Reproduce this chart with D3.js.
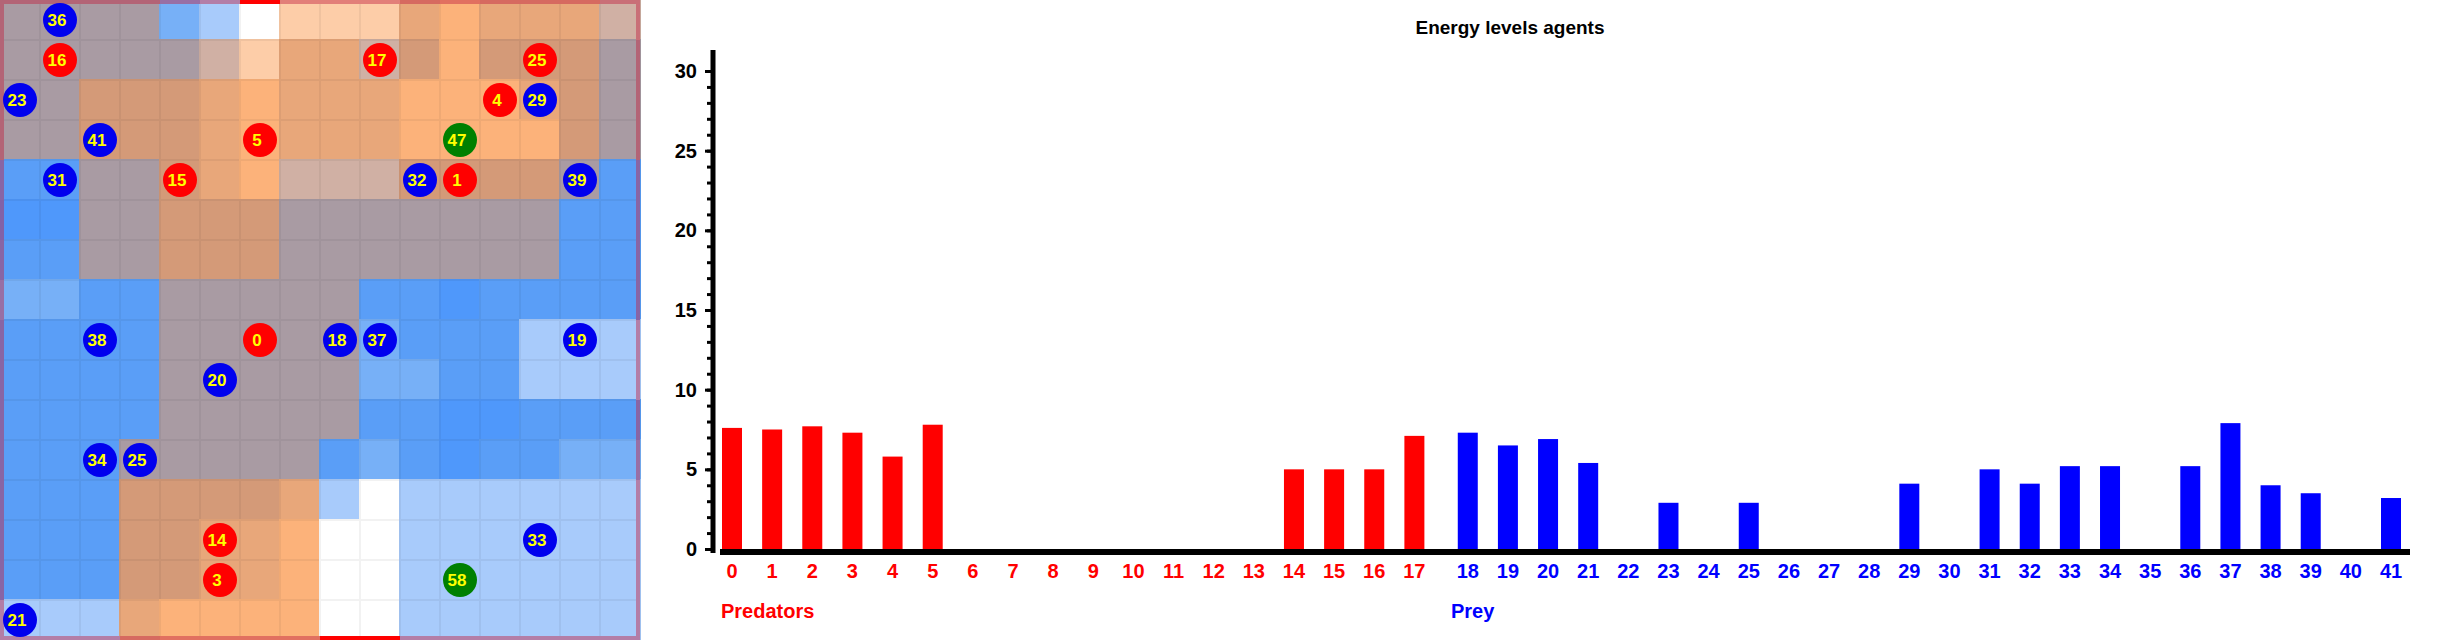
<!DOCTYPE html><html><head><meta charset="utf-8"><script src="https://cdn.jsdelivr.net/npm/d3@7"></script>
<style>body{margin:0;background:#fff}svg{display:block}text{font-family:"Liberation Sans Narrow","Liberation Sans",Arial,sans-serif;font-weight:bold}</style></head><body>
<script>
const predIds=[0,1,2,3,4,5,6,7,8,9,10,11,12,13,14,15,16,17];
const predEnergy=[7.6,7.5,7.7,7.3,5.8,7.8,0,0,0,0,0,0,0,0,5,5,5,7.1];
const preyIds=[18,19,20,21,22,23,24,25,26,27,28,29,30,31,32,33,34,35,36,37,38,39,40,41];
const preyEnergy=[7.3,6.5,6.9,5.4,0,2.9,0,2.9,0,0,0,4.1,0,5.0,4.1,5.2,5.2,0,5.2,7.9,4.0,3.5,0,3.2];
const yTicks=[0,5,10,15,20,25,30];
const gridRows=[
"GGGGMLWPPPTOTTTK","GGGGGKPTTKSOSSSG","GGSSSTOTTTOOOTSG","GGSSSTOTTTOOOOSG",
"BBGGSTOKKKSSSSGB","DDGGSSSGGGGGGGBB","BBGGSSSGGGGGGGBB","MMBBGGGGGBBDBBBB",
"BBBBGGGGGMBBBLLL","BBBBGGGGGMMBBLLL","BBBBGGGGGBBDDBBB","BBBGGGGGBMBDBBMM",
"BBBSSSSTLWLLLLLL","BBBSSTTOWWLLLLLL","BBBSSTTOWWLLLLLL","LLLTOOOOWWLLLLLL"];
const palette={G:"#a99ba3",B:"#5a9ef7",D:"#4f98fb",L:"#a8cbfb",M:"#77b0f7",W:"#ffffff",P:"#fdcda8",O:"#fcb27a",T:"#e8a77a",S:"#d49a78",K:"#d0b0a4"};
const agents=[["36",1,0,"b"],["16",1,1,"r"],["17",9,1,"r"],["25",13,1,"r"],["23",0,2,"b"],["4",12,2,"r"],["29",13,2,"b"],["41",2,3,"b"],["5",6,3,"r"],["47",11,3,"g"],["31",1,4,"b"],["15",4,4,"r"],["32",10,4,"b"],["1",11,4,"r"],["39",14,4,"b"],["38",2,8,"b"],["0",6,8,"r"],["18",8,8,"b"],["37",9,8,"b"],["19",14,8,"b"],["20",5,9,"b"],["34",2,11,"b"],["25",3,11,"b"],["14",5,13,"r"],["33",13,13,"b"],["3",5,14,"r"],["58",11,14,"g"],["21",0,15,"b"]];
const agentCol={r:"#ff0000",b:"#0000ee",g:"#008000"};

const svg=d3.select("body").append("svg").attr("width",2440).attr("height",640);
// grid
const cs=d3.scaleBand().domain(d3.range(16)).range([0,640]);
const cells=[];gridRows.forEach((r,i)=>[...r].forEach((c,j)=>cells.push({i,j,c:palette[c]})));
const g=svg.append("g");
g.selectAll("rect.c").data(cells).join("rect").attr("x",d=>cs(d.j)).attr("y",d=>cs(d.i)).attr("width",cs.bandwidth()).attr("height",cs.bandwidth())
 .attr("fill",d=>d.c).attr("stroke",d=>d3.color(d.c).darker(0.15)).attr("stroke-width",2);
const edge=d=>d.c==="#ffffff"?"#ff0000":d3.interpolateRgb(d.c,"#c02040")(0.45);
cells.filter(d=>d.i===0).forEach(d=>g.append("rect").attr("x",cs(d.j)).attr("y",0).attr("width",cs.bandwidth()).attr("height",4).attr("fill",edge(d)));
cells.filter(d=>d.i===15).forEach(d=>g.append("rect").attr("x",cs(d.j)).attr("y",636).attr("width",cs.bandwidth()).attr("height",4).attr("fill",edge(d)));
cells.filter(d=>d.j===0).forEach(d=>g.append("rect").attr("x",0).attr("y",cs(d.i)).attr("width",4).attr("height",cs.bandwidth()).attr("fill",edge(d)));
cells.filter(d=>d.j===15).forEach(d=>g.append("rect").attr("x",636).attr("y",cs(d.i)).attr("width",4).attr("height",cs.bandwidth()).attr("fill",edge(d)));
const ag=g.selectAll("g.a").data(agents).join("g").attr("transform",d=>`translate(${cs(d[1])+20},${cs(d[2])+20})`);
ag.append("circle").attr("r",17).attr("fill",d=>agentCol[d[3]]);
ag.append("text").attr("x",-3).attr("y",6).attr("text-anchor","middle").attr("fill","#ffff00").attr("font-size",17).text(d=>d[0]);

// bar chart
const bars=predIds.map((id,k)=>({id,v:predEnergy[k],c:"#ff0000",x:k})).concat(preyIds.map((id,k)=>({id,v:preyEnergy[k],c:"#0000ff",x:18+k+0.33})));
const x=d3.scaleLinear().domain([0,41.33]).range([732,2391]);
const y=d3.scaleLinear().domain([0,30]).range([549,71]);
svg.append("text").attr("x",1510).attr("y",34).attr("text-anchor","middle").attr("font-size",19).text("Energy levels agents");
svg.selectAll("rect.b").data(bars.filter(d=>d.v>0)).join("rect").attr("x",d=>x(d.x)-10).attr("width",20)
 .attr("y",d=>y(d.v)).attr("height",d=>y(0)-y(d.v)).attr("fill",d=>d.c);
svg.append("rect").attr("x",720).attr("y",549).attr("width",1690).attr("height",6).attr("fill","#000");
const ya=svg.append("g").attr("transform","translate(713,0)").call(d3.axisLeft(y).tickValues(yTicks).tickSize(8).tickPadding(8));
ya.append("g").call(d3.axisLeft(y).tickValues(d3.range(0,31)).tickSize(6).tickFormat(""));
ya.select(".domain").attr("d","M0,50V553").attr("stroke-width",5);
ya.selectAll("line").attr("stroke-width",3);
ya.selectAll("text").attr("font-size",20).attr("font-family",'"Liberation Sans Narrow","Liberation Sans",sans-serif').attr("font-weight","bold").attr("fill","#000");
svg.selectAll("text.xl").data(bars).join("text").attr("x",d=>x(d.x)).attr("y",578).attr("text-anchor","middle").attr("font-size",20).attr("fill",d=>d.c).text(d=>d.id);
svg.append("text").attr("x",721).attr("y",618).attr("font-size",20).attr("fill","#ff0000").text("Predators");
svg.append("text").attr("x",1451).attr("y",618).attr("font-size",20).attr("fill","#0000ff").text("Prey");
</script></body></html>
